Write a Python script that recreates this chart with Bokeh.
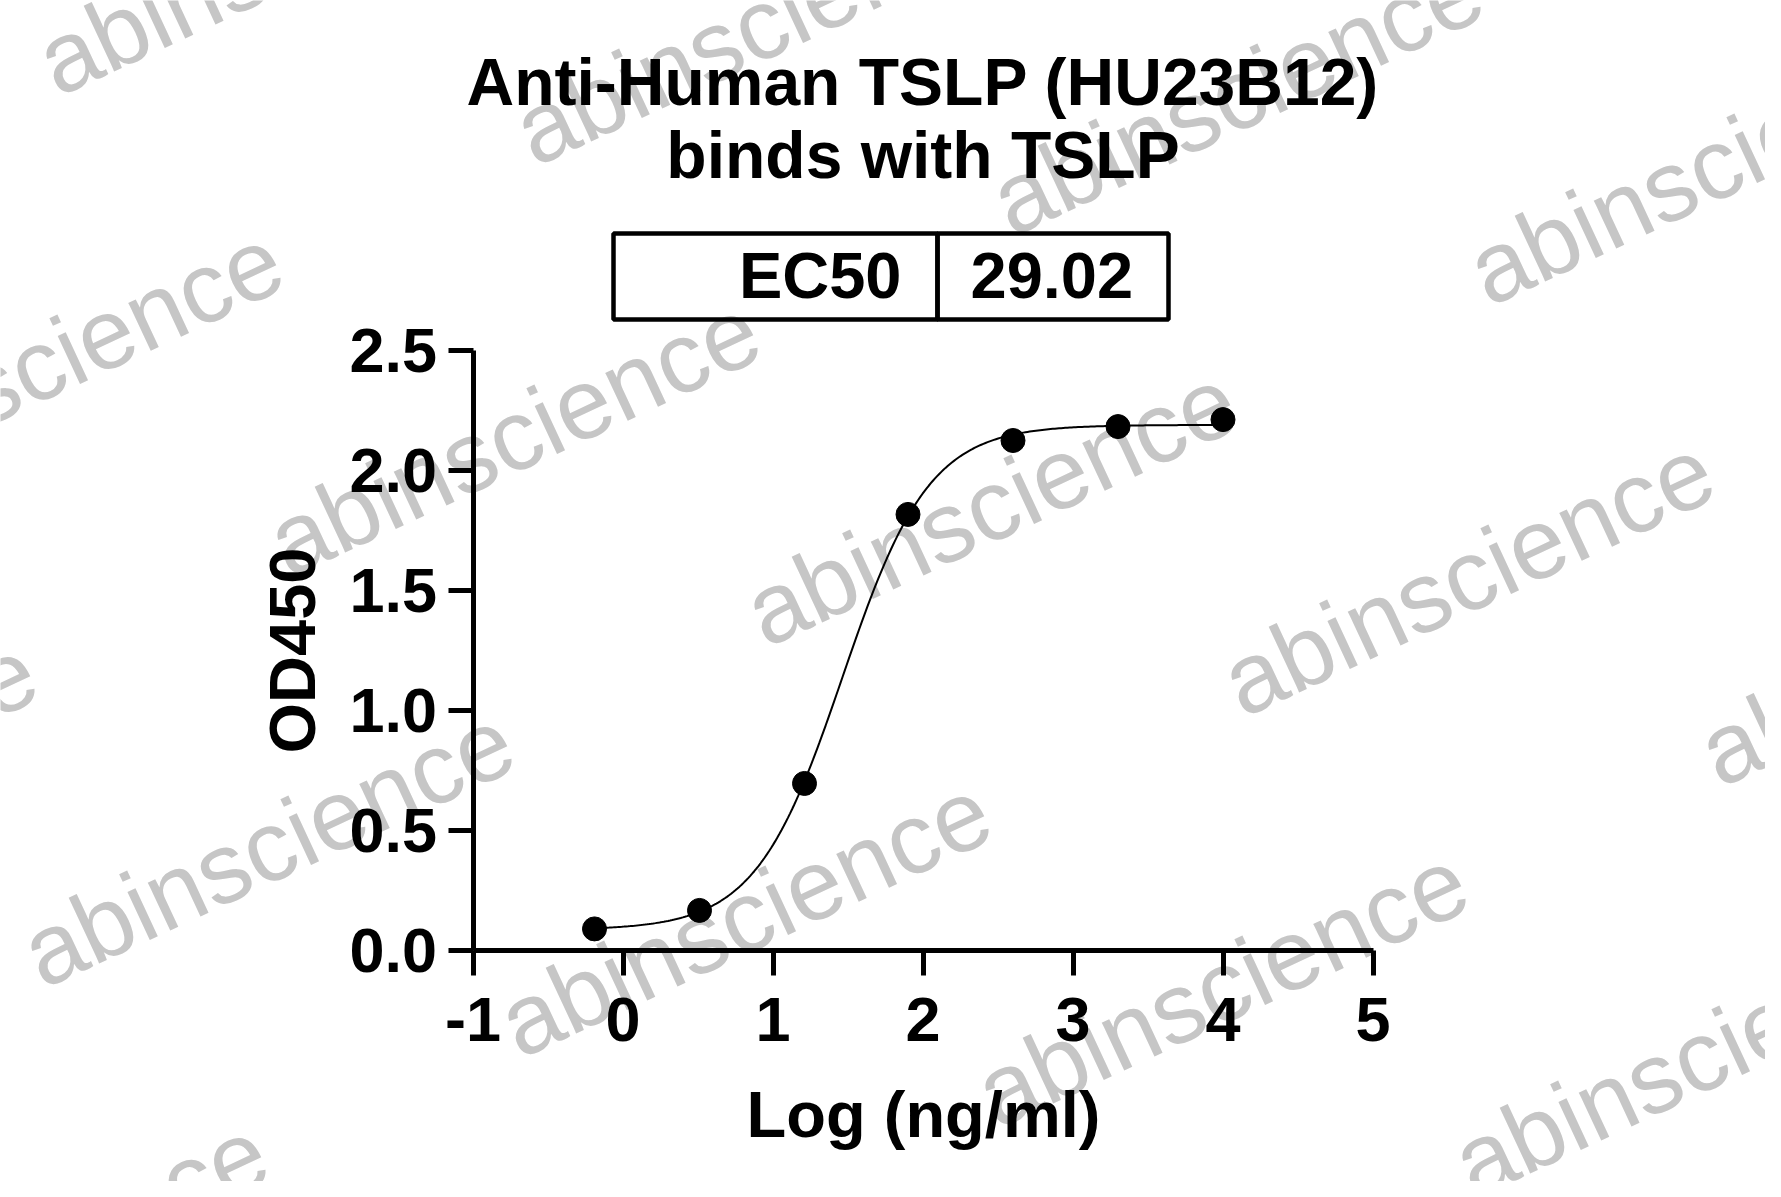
import numpy as np
from bokeh.plotting import figure
from bokeh.models import Range1d, FixedTicker, PrintfTickFormatter, Label, BoxAnnotation
from bokeh.embed import file_html
from bokeh.resources import INLINE

# measured points: log10 concentration (ng/ml) vs OD450
log_conc = [-0.19, 0.51, 1.21, 1.90, 2.60, 3.30, 4.00]
od450 = [0.09, 0.167, 0.696, 1.817, 2.125, 2.183, 2.212]

# 4PL fit parameters of the drawn curve
fit_bottom = 0.086
fit_top = 2.19
fit_ec50 = 29.02
fit_hill = 1.5

x_ticks = [-1, 0, 1, 2, 3, 4, 5]
y_ticks = [0.0, 0.5, 1.0, 1.5, 2.0, 2.5]

title_lines = ["Anti-Human TSLP (HU23B12)", "binds with TSLP"]
table_head = "EC50"
table_value = "29.02"
watermark = "abinscience"

FONT = "Liberation Sans"
W, H = 1765, 1181

# where the data box sits on the canvas (px)
X0, Y0 = 472.5, 950      # position of (-1, 0)
SX, SY = 150, 240        # px per unit
BASE_SHIFT = 23          # labels land this much below the asked baseline


def ref_to_data(px, py):
    # canvas pixel -> data coords
    return (px - X0) / SX - 1, (Y0 - py) / SY


x_lo, y_hi = ref_to_data(0, 0)
x_hi, y_lo = ref_to_data(W, H)

# frame fills the whole canvas; axes are pinned with fixed_location
p = figure(width=W, height=H, x_range=Range1d(x_lo, x_hi), y_range=Range1d(y_lo, y_hi),
           output_backend="svg", toolbar_location=None, min_border=0)
p.title.visible = False
p.xgrid.visible = False
p.ygrid.visible = False
p.outline_line_color = None
p.background_fill_color = "white"
p.border_fill_color = "white"

p.xaxis.fixed_location = 0
p.yaxis.fixed_location = -1
p.xaxis.bounds = (x_ticks[0], x_ticks[-1])
p.yaxis.bounds = (y_ticks[0], y_ticks[-1])
p.xaxis.ticker = FixedTicker(ticks=x_ticks)
p.yaxis.ticker = FixedTicker(ticks=y_ticks)
p.xaxis.formatter = PrintfTickFormatter(format="%d")
p.yaxis.formatter = PrintfTickFormatter(format="%.1f")
p.xaxis.axis_label = "Log (ng/ml)"
p.yaxis.axis_label = "OD450"

for ax in (p.xaxis[0], p.yaxis[0]):
    ax.axis_line_width = 5
    ax.axis_line_color = "black"
    ax.major_tick_line_width = 5
    ax.major_tick_line_color = "black"
    ax.major_tick_out = 25
    ax.major_tick_in = 0
    ax.minor_tick_line_color = None
    ax.major_label_text_font = FONT
    ax.major_label_text_font_style = "bold"
    ax.major_label_text_font_size = "63px"
    ax.major_label_text_color = "black"
    ax.axis_label_text_font = FONT
    ax.axis_label_text_font_style = "bold"
    ax.axis_label_text_font_size = "65px"
    ax.axis_label_text_color = "black"
p.xaxis.major_label_standoff = 22
p.yaxis.major_label_standoff = 11
p.xaxis.axis_label_standoff = 34
p.yaxis.axis_label_standoff = 18

# watermark tiling
wm_origin = (990, 505)
wm_u = (477, 70)
wm_v = (-246, 411)
for i in range(-4, 5):
    for j in range(-3, 4):
        cx = wm_origin[0] + i * wm_u[0] + j * wm_v[0]
        cy = wm_origin[1] + i * wm_u[1] + j * wm_v[1]
        if -350 < cx < W + 350 and -250 < cy < H + 250:
            dx, dy = ref_to_data(cx, cy)
            p.add_layout(Label(x=dx, y=dy, text=watermark, angle=np.radians(25),
                               text_align="center", text_baseline="middle",
                               text_font=FONT, text_font_size="100px",
                               text_color="#c6c6c6", level="underlay"))

# fitted curve
curve_x = np.linspace(min(log_conc), max(log_conc), 300)
curve_y = fit_bottom + (fit_top - fit_bottom) / (1 + 10 ** ((np.log10(fit_ec50) - curve_x) * fit_hill))
p.line(curve_x, curve_y, line_color="black", line_width=2)
p.scatter(log_conc, od450, size=24, fill_color="black", line_color="black")

# title
for text, base in zip(title_lines, (104, 177)):
    tx, ty = ref_to_data(922.5, base - BASE_SHIFT)
    p.add_layout(Label(x=tx, y=ty, text=text, text_align="center",
                       text_baseline="alphabetic", text_font=FONT,
                       text_font_style="bold", text_font_size="66px",
                       text_color="black"))

# EC50 table
bl, bt = ref_to_data(613, 233)
br, bb = ref_to_data(1168, 319)
bd, _ = ref_to_data(937, 0)
for lft, rgt in ((bl, bd), (bd, br)):
    p.add_layout(BoxAnnotation(left=lft, right=rgt, top=bt, bottom=bb,
                               fill_alpha=0, line_color="black", line_width=4.5,
                               line_alpha=1))
hx, hy = ref_to_data(901, 298 - BASE_SHIFT)
p.add_layout(Label(x=hx, y=hy, text=table_head, text_align="right",
                   text_baseline="alphabetic", text_font=FONT,
                   text_font_style="bold", text_font_size="65px", text_color="black"))
vx, vy = ref_to_data(970, 298 - BASE_SHIFT)
p.add_layout(Label(x=vx, y=vy, text=table_value, text_align="left",
                   text_baseline="alphabetic", text_font=FONT,
                   text_font_style="bold", text_font_size="65px", text_color="black"))

open("out.html", "w").write(file_html(p, INLINE))
